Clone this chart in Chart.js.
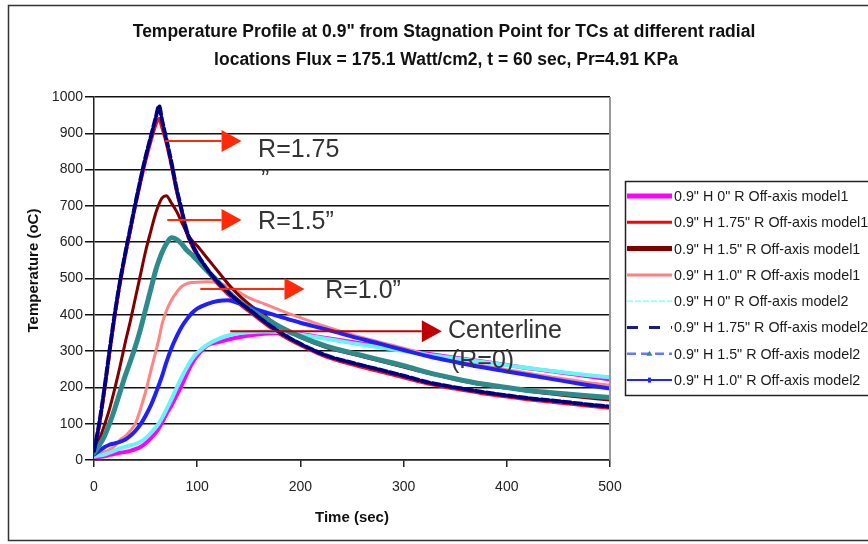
<!DOCTYPE html>
<html>
<head>
<meta charset="utf-8">
<script src="https://cdn.jsdelivr.net/npm/chart.js@4/dist/chart.umd.min.js"></script>
<style>
  html, body { margin: 0; padding: 0; background: #fff; }
  canvas { display: block; }
</style>
</head>
<body>
<canvas id="chart" width="868" height="544"></canvas>
<script>
// Time samples (sec)
const times = [0,5,10,15,20,25,30,35,40,45, 50,55,60,63,66,70,75,80,85,90,
               95,100,110,120,130,140,150,165,180,200, 225,250,275,300,325,350,375,400,425,450,
               475,500];

// Temperatures (oC) at each time sample
const h09R0Model1   = [10,8,10,14,17,20,22,25,30,36, 46,60,76,88,104,126,150,178,206,238,
                       266,287,316,324,332,338,343,348,350,347, 336,325,314,303,292,282,272,262,251,242,
                       232,222];
const h09R175Model1 = [20,95,190,295,395,485,560,630,700,765, 825,878,925,940,915,875,812,742,683,625,
                       590,563,520,485,456,432,410,377,347,316, 284,263,245,227,209,196,184,174,165,158,
                       150,143];
const h09R15Model1  = [20,55,95,140,195,255,320,380,445,510, 575,630,682,705,722,728,708,685,655,625,
                       605,590,555,520,485,455,430,398,368,338, 310,292,274,256,238,222,208,198,188,180,
                       172,165];
const h09R10Model1  = [15,18,22,28,38,55,65,80,100,140, 188,245,300,335,375,410,440,462,478,486,
                       489,490,491,488,478,463,447,430,413,392, 367,345,326,308,290,275,261,249,237,226,
                       215,206];
const h09R0Model2   = [10,12,15,20,26,32,36,40,44,50, 60,74,90,102,116,138,167,198,228,255,
                       278,295,318,333,343,349,352,354,353,346, 334,322,311,300,289,280,271,261,252,243,
                       235,228];
const h09R175Model2 = [25,100,195,300,400,488,565,635,705,772, 835,890,945,975,935,885,820,748,688,630,
                       595,568,525,490,462,437,415,382,352,320, 288,268,250,232,213,200,188,178,169,162,
                       154,147];
const h09R15Model2  = [20,40,65,100,140,185,230,270,312,360, 415,470,525,550,572,595,612,608,595,578,
                       565,550,520,492,463,438,418,392,367,340, 314,295,277,260,240,224,210,200,190,184,
                       178,172];
const h09R10Model2  = [15,25,35,42,46,50,56,66,80,98, 122,150,185,208,232,268,308,340,367,388,
                       405,417,430,438,440,432,422,408,395,378, 360,340,322,303,285,270,256,244,232,220,
                       208,197];

const seriesLabels = [
  '0.9" H 0" R Off-axis model1',
  '0.9" H 1.75" R Off-axis model1',
  '0.9" H 1.5" R Off-axis model1',
  '0.9" H 1.0" R Off-axis model1',
  '0.9" H 0" R Off-axis model2',
  '0.9" H 1.75" R Off-axis model2',
  '0.9" H 1.5" R Off-axis model2',
  '0.9" H 1.0" R Off-axis model2'
];
const seriesValues = [h09R0Model1, h09R175Model1, h09R15Model1, h09R10Model1,
                      h09R0Model2, h09R175Model2, h09R15Model2, h09R10Model2];

const chartTitle = ['Temperature Profile at 0.9" from Stagnation Point for TCs at different radial',
                    'locations Flux = 175.1 Watt/cm2, t = 60 sec, Pr=4.91 KPa'];
const xTitle = 'Time (sec)';
const yTitle = 'Temperature (oC)';

// Callout arrows, in data units (time, temperature)
const callouts = [
  { from: 69,  to: 143, y: 879, text: ['R=1.75', '\u201D'], tx: 159, ty: 854, color: '#FF2A0A' },
  { from: 71,  to: 143, y: 661, text: ['R=1.5\u201D'],       tx: 159, ty: 656, color: '#FF2A0A' },
  { from: 103, to: 204, y: 471, text: ['R=1.0\u201D'],       tx: 224, ty: 466, color: '#FF2A0A' },
  { from: 132, to: 337, y: 355, text: ['Centerline', '(R=0)'], tx: 343, ty: 355, color: '#C00000' }
];

// Line styles: plot stroke + legend sample
const styles = [
  { color: '#FF00FF', width: 4, order: 7, legend: { color: '#FF00FF', width: 5 } },
  { color: '#FF1010', width: 3.5, order: 5, legend: { color: '#FF0000', width: 3 } },
  { color: '#800000', width: 3, order: 3, legend: { color: '#800000', width: 5 } },
  { color: '#FF8585', width: 3, order: 6, legend: { color: '#FF8080', width: 3 } },
  { color: '#66F5F5', width: 4, order: 4, legend: { color: '#9FFFFF', width: 2, dash: [6, 2] } },
  { color: '#000080', width: 4, order: 0, dash: [8, 3], legend: { color: '#1A1A80', width: 3, dash: [11, 11] } },
  { color: '#2E8B8B', width: 5, order: 1, legend: { color: '#6677FF', width: 2.5, dash: [9, 5], marker: 'tri' } },
  { color: '#2020FF', width: 4, order: 2, legend: { color: '#2222FF', width: 2, marker: 'dot' } }
];

const datasets = seriesLabels.map((label, i) => ({
  label,
  data: times.map((t, k) => ({ x: t, y: seriesValues[i][k] })),
  borderColor: styles[i].color,
  backgroundColor: styles[i].color,
  borderWidth: styles[i].width,
  borderDash: styles[i].dash || [],
  order: styles[i].order,
  fill: false,
  pointRadius: 0,
  cubicInterpolationMode: 'monotone'
}));

const FONT = '"Liberation Sans", Arial, sans-serif';

const decor = {
  id: 'decor',
  beforeDraw(chart) {
    const ctx = chart.ctx;
    ctx.save();
    ctx.fillStyle = '#fff';
    ctx.fillRect(0, 0, chart.width, chart.height);
    ctx.strokeStyle = '#333';
    ctx.lineWidth = 1.5;
    ctx.strokeRect(8.5, 5.5, chart.width + 10, 535);
    ctx.restore();
  },
  afterDatasetsDraw(chart) {
    const ctx = chart.ctx;
    const xs = chart.scales.x, ys = chart.scales.y;
    ctx.save();
    callouts.forEach(c => {
      const x0 = xs.getPixelForValue(c.from);
      const x1 = xs.getPixelForValue(c.to);
      const y = ys.getPixelForValue(c.y);
      const head = 20;
      ctx.strokeStyle = c.color;
      ctx.fillStyle = c.color;
      ctx.lineWidth = 2;
      ctx.beginPath();
      ctx.moveTo(x0, y);
      ctx.lineTo(x1 - head, y);
      ctx.stroke();
      ctx.beginPath();
      ctx.moveTo(x1 - head, y - 11);
      ctx.lineTo(x1, y);
      ctx.lineTo(x1 - head, y + 11);
      ctx.closePath();
      ctx.fill();
      ctx.fillStyle = '#333';
      ctx.font = '25px ' + FONT;
      ctx.textAlign = 'left';
      ctx.textBaseline = 'middle';
      const tx = xs.getPixelForValue(c.tx);
      const ty = ys.getPixelForValue(c.ty);
      c.text.forEach((line, k) => ctx.fillText(line, tx + (k ? 3 : 0), ty + k * 30));
    });
    ctx.restore();
  },
  afterDraw(chart) {
    const ctx = chart.ctx;
    const area = chart.chartArea;
    ctx.save();
    // right edge of plot area
    ctx.strokeStyle = '#999';
    ctx.lineWidth = 2;
    ctx.beginPath();
    ctx.moveTo(area.right, area.top);
    ctx.lineTo(area.right, area.bottom);
    ctx.stroke();

    // title
    ctx.fillStyle = '#111';
    ctx.textAlign = 'center';
    ctx.textBaseline = 'middle';
    ctx.font = 'bold 17.5px ' + FONT;
    ctx.fillText(chartTitle[0], 444, 32);
    ctx.fillText(chartTitle[1], 446, 60);

    // axis titles
    ctx.font = 'bold 15px ' + FONT;
    ctx.fillText(xTitle, (area.left + area.right) / 2, 518);
    ctx.save();
    ctx.translate(34, (area.top + area.bottom) / 2 - 8);
    ctx.rotate(-Math.PI / 2);
    ctx.fillText(yTitle, 0, 0);
    ctx.restore();

    // legend
    const bx = 625.5, by = 181.5;
    ctx.strokeStyle = '#222';
    ctx.lineWidth = 1.5;
    ctx.strokeRect(bx, by, 260, 214);
    const lx0 = 627, lx1 = 672, y0 = 196, dy = 26.3;
    ctx.textAlign = 'left';
    ctx.font = '14.3px ' + FONT;
    chart.data.datasets.forEach((ds, i) => {
      const ls = styles[i].legend;
      const y = y0 + i * dy;
      ctx.strokeStyle = ls.color;
      ctx.lineWidth = ls.width;
      ctx.setLineDash(ls.dash || []);
      ctx.beginPath();
      ctx.moveTo(lx0, y);
      ctx.lineTo(lx1, y);
      ctx.stroke();
      ctx.setLineDash([]);
      const mx = (lx0 + lx1) / 2;
      if (ls.marker === 'tri') {
        ctx.fillStyle = '#2E8B8B';
        ctx.beginPath();
        ctx.moveTo(mx, y - 3);
        ctx.lineTo(mx + 3, y + 2);
        ctx.lineTo(mx - 3, y + 2);
        ctx.closePath();
        ctx.fill();
      } else if (ls.marker === 'dot') {
        ctx.fillStyle = ls.color;
        ctx.fillRect(mx - 1.5, y - 2.5, 3, 5);
      }
      ctx.fillStyle = '#1a1a1a';
      ctx.fillText(ds.label, 674, y + 1);
    });
    ctx.restore();
  }
};

new Chart(document.getElementById('chart'), {
  type: 'line',
  data: { datasets },
  options: {
    responsive: false,
    animation: false,
    devicePixelRatio: 1,
    layout: { padding: { top: 97, right: 258, left: 0, bottom: 0 } },
    plugins: {
      legend: { display: false },
      tooltip: { enabled: false },
      title: { display: false }
    },
    elements: {
      point: { radius: 0 },
      line: { borderCapStyle: 'round', borderJoinStyle: 'round' }
    },
    scales: {
      x: {
        type: 'linear',
        min: 0,
        max: 500,
        afterFit: s => { s.height = 84; },
        ticks: { stepSize: 100, padding: 12, color: '#222', font: { family: FONT, size: 14 },
                 callback: v => String(v) },
        grid: { drawOnChartArea: false, drawTicks: true, tickLength: 7, color: '#222', lineWidth: 1.5 },
        border: { color: '#222', width: 1.5 }
      },
      y: {
        type: 'linear',
        min: 0,
        max: 1000,
        afterFit: s => { s.width = 94; },
        ticks: { stepSize: 100, padding: 2, color: '#222', font: { family: FONT, size: 14 },
                 callback: v => String(v) },
        grid: { color: '#111', lineWidth: 1.5, tickLength: 9 },
        border: { color: '#222', width: 1.5 }
      }
    }
  },
  plugins: [decor]
});
</script>
</body>
</html>
